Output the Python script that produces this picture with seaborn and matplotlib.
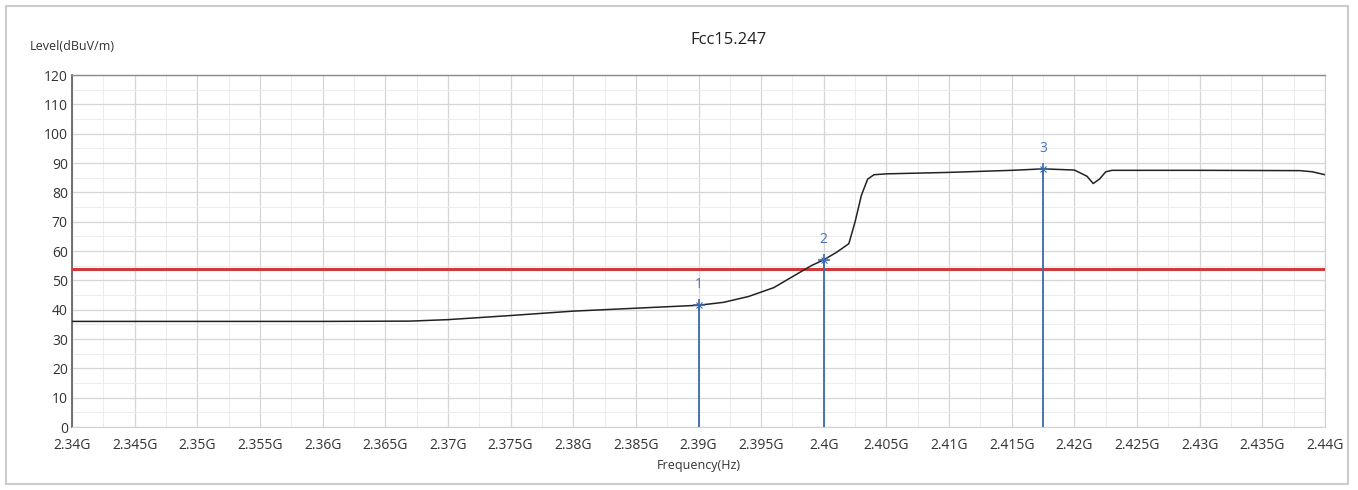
import numpy as np
import pandas as pd
import matplotlib
matplotlib.use("Agg")
import matplotlib.pyplot as plt
import seaborn as sns
from matplotlib.ticker import MultipleLocator
from matplotlib.patches import Rectangle

# ---- data (frequency in GHz, level in dBuV/m) ----
freq_ghz = [2.340, 2.350, 2.360, 2.367, 2.370, 2.375, 2.380, 2.385, 2.390,
            2.392, 2.394, 2.396, 2.397, 2.398, 2.399, 2.400, 2.401, 2.402,
            2.4025, 2.403, 2.4035, 2.404, 2.405, 2.410, 2.415, 2.4175,
            2.420, 2.421, 2.4215, 2.422, 2.4225, 2.423, 2.430, 2.438, 2.439, 2.440]
level_db = [36.0, 36.0, 36.0, 36.1, 36.6, 38.0, 39.5, 40.5, 41.5,
            42.5, 44.5, 47.5, 50.0, 52.5, 55.0, 57.0, 59.5, 62.5,
            70.0, 79.0, 84.5, 86.0, 86.3, 86.8, 87.5, 88.0,
            87.6, 85.5, 83.0, 84.5, 87.0, 87.5, 87.5, 87.4, 87.0, 86.0]

limit_level = 54.0

marker_ids = ["1", "2", "3"]
marker_freq = [2.390, 2.400, 2.4175]
marker_level = [41.5, 57.0, 88.0]

x_ticks = [2.34, 2.345, 2.35, 2.355, 2.36, 2.365, 2.37, 2.375, 2.38, 2.385,
           2.39, 2.395, 2.40, 2.405, 2.41, 2.415, 2.42, 2.425, 2.43, 2.435, 2.44]
x_tick_labels = ["2.34G", "2.345G", "2.35G", "2.355G", "2.36G", "2.365G", "2.37G",
                 "2.375G", "2.38G", "2.385G", "2.39G", "2.395G", "2.4G", "2.405G",
                 "2.41G", "2.415G", "2.42G", "2.425G", "2.43G", "2.435G", "2.44G"]
y_ticks = list(range(0, 121, 10))

sns.set_style("white")
plt.rcParams['font.family'] = ['Open Sans', 'DejaVu Sans']

fig = plt.figure(figsize=(13.58, 4.90), dpi=100)
fig.patch.set_facecolor("white")
ax = fig.add_axes([72/1358, 1-427/490, (1325-72)/1358, (427-75)/490])

ax.set_xlim(2.34, 2.44)
ax.set_ylim(0, 120)
ax.set_xticks(x_ticks)
ax.set_xticklabels(x_tick_labels)
ax.set_yticks(y_ticks)
ax.xaxis.set_minor_locator(MultipleLocator(0.0025))
ax.yaxis.set_minor_locator(MultipleLocator(5))
ax.grid(which="major", color="#d6d6d6", linewidth=0.9)
ax.grid(which="minor", color="#ececec", linewidth=0.7)
ax.set_axisbelow(True)
ax.tick_params(which="both", length=0, labelsize=10, colors="#333333", pad=3)
ax.tick_params(axis="x", pad=8)

ax.spines["top"].set_color("#8a8a8a")
ax.spines["top"].set_linewidth(1.0)
for side in ["right", "bottom"]:
    ax.spines[side].set_color("#d0d0d0")
    ax.spines[side].set_linewidth(0.8)
ax.spines["left"].set_color("#666666")
ax.spines["left"].set_linewidth(1.3)

# limit line
ax.axhline(limit_level, color="#d23a3a", linewidth=2.2, zorder=3)

# trace
df = pd.DataFrame({"f": freq_ghz, "lvl": level_db})
sns.lineplot(data=df, x="f", y="lvl", ax=ax, color="#222222", linewidth=1.1,
             zorder=4, estimator=None, sort=True)

# markers
for mid, mf, ml in zip(marker_ids, marker_freq, marker_level):
    ax.vlines(mf, 0, ml, color="#3c6aa8", linewidth=1.3, zorder=5)
    ax.plot([mf], [ml], marker="+", color="#3c6aa8", markersize=8, mew=1.2, zorder=6)
    ax.plot([mf], [ml], marker="x", color="#3c6aa8", markersize=5, mew=0.8, zorder=6)
    ax.text(mf, ml + 4.5, mid, color="#4a73b0", fontsize=10, ha="center", va="bottom", zorder=6)

ax.set_xlabel("Frequency(Hz)", fontsize=9, color="#333333", labelpad=4)
ax.set_ylabel("")
fig.text(30/1358, 1-46/490, "Level(dBuV/m)", fontsize=9, color="#333333", ha="left", va="center")
fig.text(728/1358, 1-40/490, "Fcc15.247", fontsize=12, color="#222222", ha="center", va="center")

# panel border
fig.patches.append(Rectangle((6/1358, 6/490), 1342/1358, 478/490, transform=fig.transFigure,
                             fill=False, edgecolor="#cccccc", linewidth=1.5))

fig.savefig("out.png", dpi=100)
